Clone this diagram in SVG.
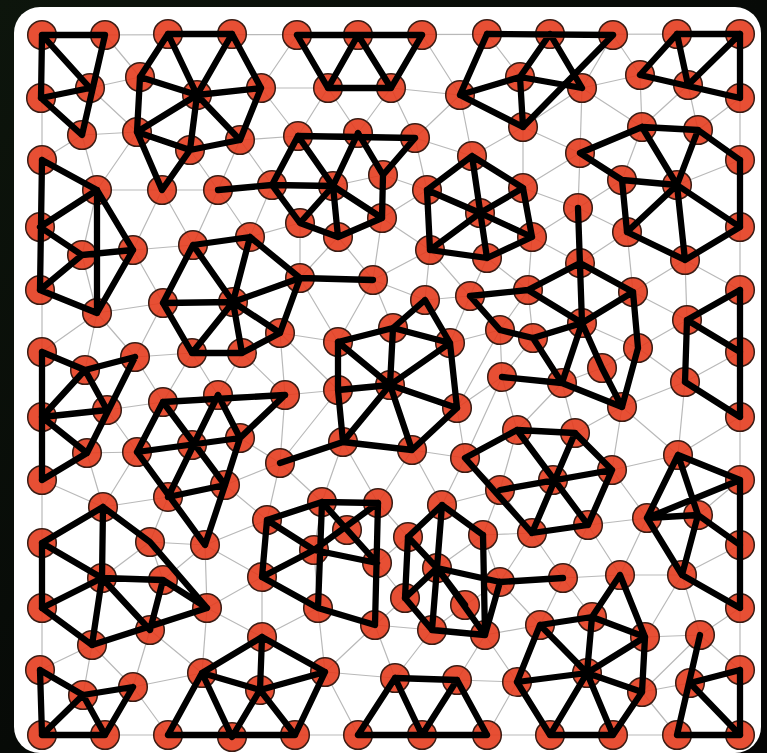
<svg xmlns="http://www.w3.org/2000/svg" width="767" height="753" viewBox="0 0 767 753">
<defs>
<linearGradient id="bg" x1="0" y1="0" x2="1" y2="1">
<stop offset="0" stop-color="#0d150c"/>
<stop offset="0.5" stop-color="#070a07"/>
<stop offset="1" stop-color="#050505"/>
</linearGradient>
<style>
.mesh{fill:none;stroke:#b9b9b9;stroke-width:1.2}
.bond{fill:none;stroke:#000;stroke-width:6.3;stroke-linecap:round;stroke-linejoin:round}
.nodes circle{r:14.3px;fill:#e43c1e;fill-opacity:.9;stroke:#3a1c14;stroke-width:1.5}
</style>
</defs>
<rect x="0" y="0" width="767" height="753" fill="url(#bg)"/>
<rect x="14" y="7" width="747" height="746" rx="26" fill="#fff"/>
<g id="connectors">
<path class="mesh" d="M42 35L740 34M42 35L42 735M42 735L740 735M740 34L740 735
M90 88L42 35M90 88L105 35M90 88L41 98M90 88L82 135M90 88L140 77M90 88L137 132
M82 135L41 98M82 135L42 160M82 135L137 132M82 135L97 190
M140 77L105 35M140 77L168 34M140 77L137 132M140 77L197 95
M137 132L197 95M137 132L190 150M137 132L97 190M137 132L162 190
M197 95L168 34M197 95L232 34M197 95L190 150M197 95L240 140M197 95L261 88
M261 88L232 34M261 88L297 35M261 88L240 140M261 88L298 136M261 88L328 88
M240 140L190 150M240 140L298 136M240 140L272 185M240 140L218 190
M190 150L162 190M190 150L218 190
M162 190L97 190M162 190L133 250M162 190L193 245M162 190L218 190
M97 190L42 160M97 190L40 227M97 190L82 255M97 190L133 250
M82 255L40 227M82 255L133 250M82 255L40 290M82 255L97 313
M133 250L97 313M133 250L193 245M133 250L163 303
M218 190L272 185M218 190L193 245M218 190L250 237
M193 245L163 303M193 245L233 302M193 245L250 237
M250 237L272 185M250 237L300 223M250 237L233 302M250 237L300 278
M97 313L40 290M97 313L163 303M97 313L42 352M97 313L85 370M97 313L135 357
M163 303L233 302M163 303L135 357M163 303L192 353
M300 278L300 223M300 278L338 237M300 278L373 280M300 278L280 333M300 278L338 342
M280 333L242 353M280 333L338 342M280 333L285 395M280 333L338 390
M242 353L192 353M242 353L218 395M242 353L285 395
M192 353L135 357M192 353L163 402M192 353L218 395
M85 370L42 352M85 370L135 357M85 370L42 417M85 370L107 410
M135 357L107 410M135 357L163 402
M107 410L163 402M107 410L42 417M107 410L87 453M107 410L137 452
M163 402L218 395M163 402L137 452M163 402L192 445
M218 395L192 445M218 395L240 438M218 395L285 395
M285 395L240 438M285 395L338 390M285 395L280 463
M87 453L42 417M87 453L137 452M87 453L42 480M87 453L103 507
M137 452L192 445M137 452L168 497M137 452L103 507
M192 445L240 438M192 445L168 497M192 445L225 485
M240 438L225 485M240 438L280 463
M280 463L225 485M280 463L267 520M280 463L343 442M280 463L338 390M280 463L322 502
M103 507L42 480M103 507L42 543M103 507L150 542M103 507L168 497
M168 497L225 485M168 497L150 542M168 497L205 545
M225 485L205 545M225 485L267 520
M205 545L267 520M205 545L150 542M205 545L163 580M205 545L207 608M205 545L262 577
M150 542L102 578M150 542L163 580
M267 520L322 502M267 520L314 550M267 520L262 577
M102 578L42 543M102 578L42 608M102 578L92 645M102 578L150 630M102 578L163 580
M163 580L207 608M163 580L150 630
M207 608L262 577M207 608L150 630M207 608L262 637M207 608L202 673
M262 577L314 550M262 577L318 608M262 577L262 637
M150 630L92 645M150 630L133 687M150 630L202 673
M92 645L42 608M92 645L40 670M92 645L83 695M92 645L133 687
M83 695L40 670M83 695L133 687M83 695L42 735M83 695L105 735
M133 687L202 673M133 687L105 735M133 687L168 735
M202 673L262 637M202 673L260 690M202 673L168 735M202 673L232 737
M262 637L318 608M262 637L260 690M262 637L325 672
M260 690L325 672M260 690L232 737M260 690L295 735
M325 672L318 608M325 672L375 625M325 672L395 678M325 672L295 735M325 672L358 735
M318 608L314 550M318 608L375 625
M314 550L322 502M314 550L347 530M314 550L377 563
M322 502L343 442M322 502L378 503M322 502L347 530
M347 530L378 503M347 530L377 563
M378 503L343 442M378 503L412 450M378 503L377 563M378 503L408 537
M377 563L375 625M377 563L408 537M377 563L405 598
M375 625L395 678M375 625L405 598M375 625L432 630
M343 442L338 390M343 442L390 385M343 442L412 450
M338 390L338 342M338 390L390 385
M338 342L373 280M338 342L393 328
M373 280L338 237M373 280L382 218M373 280L393 328M373 280L425 300
M393 328L390 385
M425 300L430 250M425 300L450 343M425 300L470 296
M450 343L470 296M450 343L500 330M450 343L457 408
M457 408L412 450M457 408L465 458M457 408L500 330M457 408L502 377
M412 450L442 505M412 450L465 458
M465 458L442 505M465 458L500 490M465 458L517 430M465 458L502 377
M442 505L408 537M442 505L437 568M442 505L483 535M442 505L500 490
M408 537L437 568M408 537L405 598
M437 568L405 598M437 568L432 630M437 568L465 605M437 568L483 535M437 568L500 582
M405 598L432 630
M432 630L465 605M432 630L485 635M432 630L395 678
M465 605L500 582M465 605L485 635
M485 635L500 582M485 635L457 680M485 635L517 682M485 635L540 625
M483 535L500 582M483 535L500 490M483 535L532 533
M500 582L532 533M500 582L563 578M500 582L540 625
M500 490L517 430M500 490L532 533M500 490L553 480
M532 533L553 480M532 533L588 525M532 533L563 578
M517 430L502 377M517 430L562 383M517 430L575 433M517 430L553 480
M575 433L562 383M575 433L622 407M575 433L553 480M575 433L612 470
M553 480L612 470M553 480L588 525
M612 470L622 407M612 470L588 525M612 470L647 518M612 470L678 455
M588 525L563 578M588 525L647 518M588 525L620 575
M563 578L620 575M563 578L540 625M563 578L592 617
M395 678L457 680M395 678L358 735M395 678L422 735
M457 680L517 682M457 680L422 735M457 680L487 735
M517 682L540 625M517 682L587 673M517 682L487 735M517 682L550 735
M540 625L592 617M540 625L587 673
M592 617L620 575M592 617L587 673M592 617L645 637
M620 575L647 518M620 575L682 575M620 575L645 637
M587 673L645 637M587 673L642 692M587 673L550 735M587 673L613 735
M645 637L642 692M645 637L700 635M645 637L682 575
M642 692L700 635M642 692L690 683M642 692L613 735M642 692L677 735
M682 575L647 518M682 575L698 515M682 575L740 608M682 575L740 545M682 575L700 635
M700 635L690 683M700 635L740 608M700 635L740 670
M690 683L740 670M690 683L677 735M690 683L740 735
M647 518L698 515M647 518L678 455
M698 515L678 455M698 515L740 480M698 515L740 545
M678 455L622 407M678 455L685 382M678 455L740 417M678 455L740 480
M685 382L622 407M685 382L638 348M685 382L687 320M685 382L740 352M685 382L740 417
M687 320L633 292M687 320L638 348M687 320L740 290M687 320L740 352M687 320L685 260
M638 348L633 292M638 348L582 323M638 348L602 368M638 348L622 407
M622 407L602 368M622 407L562 383
M602 368L582 323M602 368L562 383
M562 383L502 377M562 383L533 338M562 383L582 323
M502 377L500 330M502 377L533 338
M500 330L470 296M500 330L533 338M500 330L528 290
M533 338L528 290M533 338L582 323
M582 323L580 263M582 323L528 290M582 323L633 292
M528 290L470 296M528 290L580 263M528 290L487 258M528 290L532 237
M470 296L430 250M470 296L487 258
M633 292L580 263M633 292L627 232M633 292L685 260
M580 263L578 208M580 263L532 237M580 263L627 232
M578 208L523 188M578 208L532 237M578 208L627 232M578 208L622 180M578 208L580 153
M532 237L523 188M532 237L480 213M532 237L487 258
M487 258L480 213M487 258L430 250
M430 250L427 190M430 250L480 213M430 250L382 218M430 250L373 280
M480 213L472 156M480 213L427 190M480 213L523 188
M427 190L415 138M427 190L472 156M427 190L383 175M427 190L382 218
M472 156L460 95M472 156L523 127M472 156L415 138M472 156L523 188
M523 188L523 127M523 188L580 153
M580 153L523 127M580 153L582 88M580 153L642 127M580 153L622 180
M622 180L642 127M622 180L677 185M622 180L627 232
M627 232L677 185M627 232L685 260
M677 185L642 127M677 185L698 130M677 185L740 160M677 185L740 227M677 185L685 260
M685 260L740 227M685 260L740 290
M642 127L640 75M642 127L688 85M642 127L698 130M642 127L582 88
M698 130L688 85M698 130L740 98M698 130L740 160
M688 85L677 34M688 85L740 34M688 85L640 75M688 85L740 98
M640 75L613 35M640 75L677 34M640 75L582 88
M582 88L550 34M582 88L613 35M582 88L520 77M582 88L523 127
M523 127L520 77M523 127L460 95
M520 77L487 34M520 77L550 34M520 77L460 95
M460 95L422 35M460 95L487 34M460 95L415 138M460 95L391 88
M415 138L391 88M415 138L383 175M415 138L358 133
M383 175L358 133M383 175L382 218M383 175L333 186
M358 133L328 88M358 133L391 88M358 133L298 136M358 133L333 186
M298 136L328 88M298 136L333 186M298 136L272 185
M328 88L297 35M328 88L358 35M328 88L391 88
M391 88L358 35M391 88L422 35
M333 186L272 185M333 186L300 223M333 186L338 237M333 186L382 218
M272 185L300 223M300 223L338 237M338 237L382 218"/>
</g>
<g class="nodes">
<g id="t1"><circle cx="42" cy="35"/></g><g id="t2"><circle cx="105" cy="35"/></g><g id="t3"><circle cx="168" cy="34"/></g><g id="t4"><circle cx="232" cy="34"/></g><g id="t5"><circle cx="297" cy="35"/></g><g id="t6"><circle cx="358" cy="35"/></g><g id="t7"><circle cx="422" cy="35"/></g><g id="t8"><circle cx="487" cy="34"/></g><g id="t9"><circle cx="550" cy="34"/></g><g id="t10"><circle cx="613" cy="35"/></g><g id="t11"><circle cx="677" cy="34"/></g><g id="t12"><circle cx="740" cy="34"/></g>
<g id="l2"><circle cx="41" cy="98"/></g><g id="l3"><circle cx="42" cy="160"/></g><g id="l4"><circle cx="40" cy="227"/></g><g id="l5"><circle cx="40" cy="290"/></g><g id="l6"><circle cx="42" cy="352"/></g><g id="l7"><circle cx="42" cy="417"/></g><g id="l8"><circle cx="42" cy="480"/></g><g id="l9"><circle cx="42" cy="543"/></g><g id="l10"><circle cx="42" cy="608"/></g><g id="l11"><circle cx="40" cy="670"/></g>
<g id="r2"><circle cx="740" cy="98"/></g><g id="r3"><circle cx="740" cy="160"/></g><g id="r4"><circle cx="740" cy="227"/></g><g id="r5"><circle cx="740" cy="290"/></g><g id="r6"><circle cx="740" cy="352"/></g><g id="r7"><circle cx="740" cy="417"/></g><g id="r8"><circle cx="740" cy="480"/></g><g id="r9"><circle cx="740" cy="545"/></g><g id="r10"><circle cx="740" cy="608"/></g><g id="r11"><circle cx="740" cy="670"/></g>
<g id="b1"><circle cx="42" cy="735"/></g><g id="b2"><circle cx="105" cy="735"/></g><g id="b3"><circle cx="168" cy="735"/></g><g id="b4"><circle cx="232" cy="737"/></g><g id="b5"><circle cx="295" cy="735"/></g><g id="b6"><circle cx="358" cy="735"/></g><g id="b7"><circle cx="422" cy="735"/></g><g id="b8"><circle cx="487" cy="735"/></g><g id="b9"><circle cx="550" cy="735"/></g><g id="b10"><circle cx="613" cy="735"/></g><g id="b11"><circle cx="677" cy="735"/></g><g id="b12"><circle cx="740" cy="735"/></g>
<g id="A3"><circle cx="90" cy="88"/></g><g id="A5"><circle cx="82" cy="135"/></g>
<g id="B0"><circle cx="197" cy="95"/></g><g id="B3"><circle cx="261" cy="88"/></g><g id="B4"><circle cx="240" cy="140"/></g><g id="B5"><circle cx="190" cy="150"/></g><g id="B6"><circle cx="137" cy="132"/></g><g id="B7"><circle cx="140" cy="77"/></g><g id="B8"><circle cx="162" cy="190"/></g>
<g id="C4"><circle cx="328" cy="88"/></g><g id="C5"><circle cx="391" cy="88"/></g>
<g id="D4"><circle cx="460" cy="95"/></g><g id="D5"><circle cx="520" cy="77"/></g><g id="D6"><circle cx="582" cy="88"/></g><g id="D7"><circle cx="523" cy="127"/></g>
<g id="E3"><circle cx="640" cy="75"/></g><g id="E4"><circle cx="688" cy="85"/></g>
<g id="F0"><circle cx="333" cy="186"/></g><g id="F1"><circle cx="298" cy="136"/></g><g id="F2"><circle cx="358" cy="133"/></g><g id="F3"><circle cx="415" cy="138"/></g><g id="F4"><circle cx="383" cy="175"/></g><g id="F5"><circle cx="272" cy="185"/></g><g id="F6"><circle cx="300" cy="223"/></g><g id="F7"><circle cx="338" cy="237"/></g><g id="F8"><circle cx="382" cy="218"/></g><g id="F9"><circle cx="218" cy="190"/></g>
<g id="G0"><circle cx="480" cy="213"/></g><g id="G1"><circle cx="472" cy="156"/></g><g id="G2"><circle cx="427" cy="190"/></g><g id="G3"><circle cx="430" cy="250"/></g><g id="G4"><circle cx="487" cy="258"/></g><g id="G5"><circle cx="523" cy="188"/></g><g id="G6"><circle cx="532" cy="237"/></g>
<g id="H0"><circle cx="677" cy="185"/></g><g id="H1"><circle cx="642" cy="127"/></g><g id="H2"><circle cx="698" cy="130"/></g><g id="H3"><circle cx="580" cy="153"/></g><g id="H5"><circle cx="622" cy="180"/></g><g id="H7"><circle cx="685" cy="260"/></g><g id="H8"><circle cx="627" cy="232"/></g>
<g id="R0"><circle cx="578" cy="208"/></g><g id="R1"><circle cx="580" cy="263"/></g><g id="R2"><circle cx="528" cy="290"/></g><g id="R3"><circle cx="633" cy="292"/></g><g id="R4"><circle cx="582" cy="323"/></g><g id="R5"><circle cx="533" cy="338"/></g><g id="R6"><circle cx="638" cy="348"/></g><g id="R7"><circle cx="500" cy="330"/></g><g id="R8"><circle cx="602" cy="368"/></g><g id="R9"><circle cx="470" cy="296"/></g><g id="R10"><circle cx="502" cy="377"/></g><g id="R11"><circle cx="562" cy="383"/></g><g id="R12"><circle cx="622" cy="407"/></g>
<g id="Q2"><circle cx="687" cy="320"/></g><g id="Q4"><circle cx="685" cy="382"/></g>
<g id="Z2"><circle cx="97" cy="190"/></g><g id="Z4"><circle cx="82" cy="255"/></g><g id="Z5"><circle cx="133" cy="250"/></g><g id="Z7"><circle cx="97" cy="313"/></g>
<g id="HX0"><circle cx="233" cy="302"/></g><g id="HX1"><circle cx="193" cy="245"/></g><g id="HX2"><circle cx="250" cy="237"/></g><g id="HX3"><circle cx="300" cy="278"/></g><g id="HX4"><circle cx="280" cy="333"/></g><g id="HX5"><circle cx="242" cy="353"/></g><g id="HX6"><circle cx="192" cy="353"/></g><g id="HX7"><circle cx="163" cy="303"/></g><g id="HX8"><circle cx="373" cy="280"/></g>
<g id="S2"><circle cx="85" cy="370"/></g><g id="S3"><circle cx="135" cy="357"/></g><g id="S5"><circle cx="107" cy="410"/></g><g id="S6"><circle cx="87" cy="453"/></g>
<g id="T0"><circle cx="192" cy="445"/></g><g id="T1"><circle cx="163" cy="402"/></g><g id="T2"><circle cx="218" cy="395"/></g><g id="T3"><circle cx="137" cy="452"/></g><g id="T4"><circle cx="240" cy="438"/></g><g id="T6"><circle cx="168" cy="497"/></g><g id="T7"><circle cx="225" cy="485"/></g><g id="T8"><circle cx="205" cy="545"/></g><g id="T10"><circle cx="285" cy="395"/></g>
<g id="J0"><circle cx="390" cy="385"/></g><g id="J1"><circle cx="338" cy="342"/></g><g id="J2"><circle cx="393" cy="328"/></g><g id="J3"><circle cx="425" cy="300"/></g><g id="J4"><circle cx="450" cy="343"/></g><g id="J5"><circle cx="457" cy="408"/></g><g id="J6"><circle cx="412" cy="450"/></g><g id="J7"><circle cx="343" cy="442"/></g><g id="J8"><circle cx="338" cy="390"/></g><g id="J9"><circle cx="280" cy="463"/></g>
<g id="M0"><circle cx="553" cy="480"/></g><g id="M1"><circle cx="517" cy="430"/></g><g id="M2"><circle cx="575" cy="433"/></g><g id="M3"><circle cx="612" cy="470"/></g><g id="M4"><circle cx="588" cy="525"/></g><g id="M5"><circle cx="532" cy="533"/></g><g id="M6"><circle cx="500" cy="490"/></g><g id="M7"><circle cx="465" cy="458"/></g>
<g id="P1"><circle cx="678" cy="455"/></g><g id="P3"><circle cx="647" cy="518"/></g><g id="P4"><circle cx="698" cy="515"/></g><g id="P6"><circle cx="682" cy="575"/></g>
<g id="L1"><circle cx="267" cy="520"/></g><g id="L2"><circle cx="322" cy="502"/></g><g id="L3"><circle cx="378" cy="503"/></g><g id="L4"><circle cx="347" cy="530"/></g><g id="L5"><circle cx="314" cy="550"/></g><g id="L6"><circle cx="262" cy="577"/></g><g id="L7"><circle cx="318" cy="608"/></g><g id="L8"><circle cx="377" cy="563"/></g><g id="L9"><circle cx="375" cy="625"/></g>
<g id="K0"><circle cx="437" cy="568"/></g><g id="K1"><circle cx="442" cy="505"/></g><g id="K2"><circle cx="408" cy="537"/></g><g id="K3"><circle cx="483" cy="535"/></g><g id="K4"><circle cx="500" cy="582"/></g><g id="K5"><circle cx="465" cy="605"/></g><g id="K6"><circle cx="485" cy="635"/></g><g id="K7"><circle cx="432" cy="630"/></g><g id="K8"><circle cx="405" cy="598"/></g><g id="K9"><circle cx="563" cy="578"/></g>
<g id="N0"><circle cx="587" cy="673"/></g><g id="N1"><circle cx="540" cy="625"/></g><g id="N2"><circle cx="592" cy="617"/></g><g id="N3"><circle cx="620" cy="575"/></g><g id="N4"><circle cx="645" cy="637"/></g><g id="N5"><circle cx="642" cy="692"/></g><g id="N8"><circle cx="517" cy="682"/></g>
<g id="O3"><circle cx="700" cy="635"/></g><g id="O5"><circle cx="690" cy="683"/></g>
<g id="U0"><circle cx="102" cy="578"/></g><g id="U2"><circle cx="103" cy="507"/></g><g id="U3"><circle cx="150" cy="542"/></g><g id="U4"><circle cx="163" cy="580"/></g><g id="U5"><circle cx="207" cy="608"/></g><g id="U6"><circle cx="150" cy="630"/></g><g id="U7"><circle cx="92" cy="645"/></g>
<g id="V2"><circle cx="83" cy="695"/></g><g id="V3"><circle cx="133" cy="687"/></g>
<g id="W1"><circle cx="262" cy="637"/></g><g id="W2"><circle cx="325" cy="672"/></g><g id="W3"><circle cx="260" cy="690"/></g><g id="W6"><circle cx="202" cy="673"/></g>
<g id="X1"><circle cx="395" cy="678"/></g><g id="X2"><circle cx="457" cy="680"/></g>
</g>
<g id="bonds">
<path class="bond" d="M42 35L105 35M42 35L41 98M42 35L90 88M105 35L82 135M41 98L90 88M41 98L82 135
M168 34L232 34M168 34L140 77M140 77L137 132M137 132L190 150M190 150L240 140M240 140L261 88M261 88L232 34
M197 95L168 34M197 95L232 34M197 95L261 88M197 95L240 140M197 95L190 150M197 95L137 132M197 95L140 77M137 132L162 190M190 150L162 190
M297 35L422 35M297 35L328 88M328 88L358 35M358 35L391 88M391 88L422 35M328 88L391 88
M487 34L613 35M487 34L460 95M550 34L520 77M550 34L582 88M613 35L523 127M520 77L582 88M520 77L523 127M460 95L520 77M460 95L523 127
M677 34L740 34M677 34L640 75M677 34L688 85M740 34L740 98M740 34L688 85M640 75L740 98
M298 136L415 138M298 136L272 185M298 136L333 186M358 133L333 186M358 133L383 175M415 138L383 175M383 175L382 218M272 185L300 223M300 223L338 237M338 237L382 218M333 186L300 223M333 186L338 237M333 186L382 218M333 186L272 185M218 190L272 185
M472 156L427 190M472 156L523 188M472 156L487 258M427 190L430 250M427 190L480 213M430 250L480 213M430 250L487 258M480 213L523 188M480 213L532 237M523 188L532 237M487 258L532 237
M642 127L698 130M642 127L580 153M698 130L740 160M740 160L740 227M740 227L685 260M685 260L627 232M627 232L622 180M677 185L642 127M677 185L698 130M677 185L740 227M677 185L685 260M677 185L627 232M677 185L622 180M580 153L622 180M578 208L582 323
M42 160L97 190M42 160L40 290M97 190L40 227M97 190L133 250M97 190L97 313M40 227L82 255M82 255L133 250M82 255L40 290M40 290L97 313M97 313L133 250
M193 245L250 237M250 237L300 278M300 278L280 333M280 333L242 353M242 353L192 353M192 353L163 303M163 303L193 245M233 302L193 245M233 302L250 237M233 302L300 278M233 302L280 333M233 302L242 353M233 302L192 353M233 302L163 303M300 278L373 280
M42 352L85 370M85 370L135 357M42 352L42 480M85 370L42 417M85 370L107 410M42 417L107 410M135 357L87 453M42 417L87 453M87 453L42 480
M163 402L285 395M163 402L137 452M163 402L225 485M218 395L168 497M137 452L240 438M218 395L240 438M240 438L285 395M168 497L225 485M240 438L225 485M225 485L205 545M137 452L205 545
M338 342L393 328M338 342L338 390M393 328L425 300M393 328L450 343M425 300L450 343M450 343L457 408M457 408L412 450M412 450L343 442M343 442L338 390M343 442L280 463M390 385L338 342M390 385L393 328M390 385L450 343M390 385L457 408M390 385L412 450M390 385L343 442M390 385L338 390
M465 458L517 430M465 458L532 533M517 430L575 433M575 433L612 470M612 470L588 525M588 525L532 533M517 430L588 525M575 433L532 533M500 490L612 470
M678 455L740 480M678 455L647 518M678 455L698 515M647 518L698 515M740 480L647 518M698 515L740 545M740 480L740 545M647 518L682 575M682 575L740 608M740 608L740 545M682 575L698 515
M740 290L687 320M687 320L740 352M687 320L685 382M685 382L740 417M740 290L740 417
M267 520L322 502M322 502L378 503M267 520L314 550M267 520L262 577M322 502L318 608M322 502L377 563M378 503L314 550M378 503L375 625M262 577L314 550M262 577L318 608M318 608L375 625M314 550L377 563
M442 505L408 537M442 505L483 535M437 568L442 505M437 568L408 537M437 568L405 598M437 568L432 630M437 568L465 605M437 568L500 582M437 568L485 635M405 598L432 630M432 630L485 635M485 635L500 582M483 535L485 635M500 582L563 578M408 537L405 598
M540 625L592 617M592 617L645 637M620 575L592 617M620 575L645 637M645 637L642 692M642 692L613 735M613 735L550 735M550 735L517 682M517 682L540 625M587 673L540 625M587 673L592 617M587 673L645 637M587 673L642 692M587 673L613 735M587 673L550 735M587 673L517 682
M700 635L677 735M690 683L740 670M740 670L740 735M690 683L740 735M677 735L740 735
M42 543L103 507M103 507L150 542M103 507L102 578M42 543L102 578M42 543L42 608M42 608L102 578M42 608L92 645M102 578L92 645M102 578L163 580M102 578L150 630M163 580L150 630M163 580L207 608M92 645L207 608M150 542L207 608
M40 670L42 735M40 670L83 695M83 695L133 687M83 695L42 735M83 695L105 735M133 687L105 735M42 735L105 735
M262 637L260 690M262 637L325 672M325 672L260 690M325 672L295 735M260 690L295 735M168 735L295 735M202 673L260 690M202 673L232 737M202 673L262 637M202 673L168 735M260 690L232 737
M395 678L457 680M395 678L358 735M395 678L422 735M457 680L422 735M457 680L487 735M358 735L487 735
M580 263L528 290M580 263L633 292M528 290L470 296M528 290L582 323M633 292L638 348M582 323L533 338M582 323L602 368M582 323L562 383M502 377L562 383M562 383L622 407M602 368L622 407M470 296L500 330M500 330L533 338M582 323L633 292M638 348L622 407M533 338L562 383"/>
</g>
</svg>
